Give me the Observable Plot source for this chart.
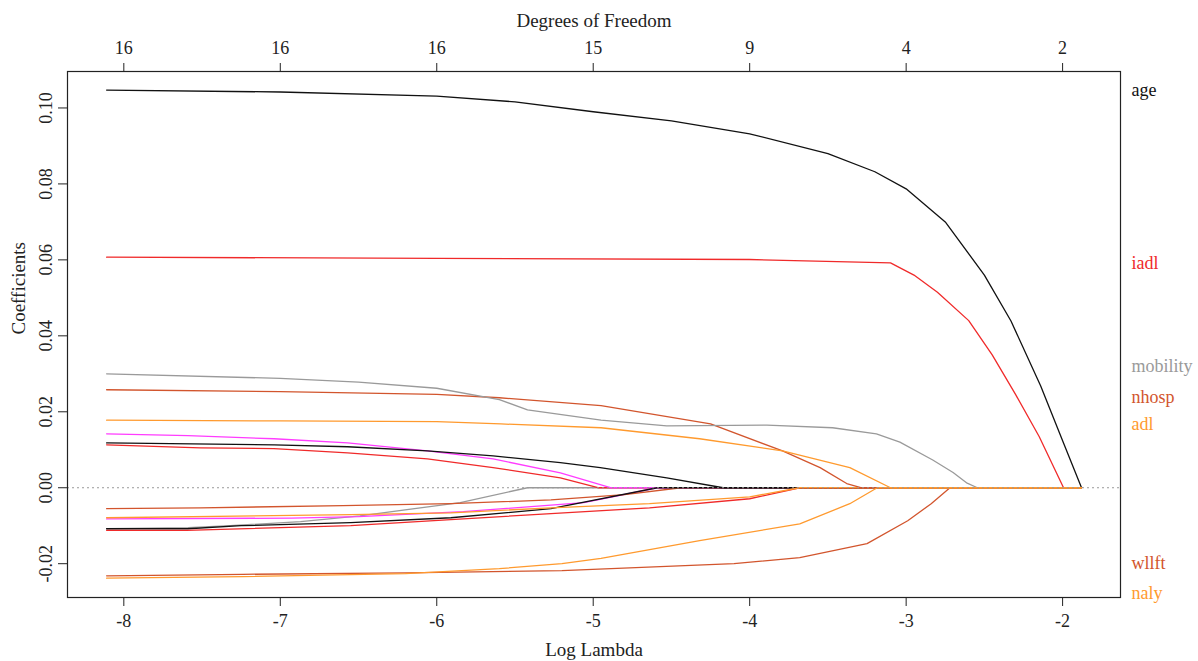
<!DOCTYPE html>
<html>
<head>
<meta charset="utf-8">
<script src="https://cdn.jsdelivr.net/npm/d3@7"></script>
<script src="https://cdn.jsdelivr.net/npm/@observablehq/plot@0.6"></script>
<style>
  html, body { margin: 0; padding: 0; background: #fff; }
  #chart svg { display: block; }
</style>
</head>
<body>
<div id="chart"></div>
<script>
// ---- Data (Log Lambda, coefficient) ----
const iadl = [[-8.11,0.0607],[-6,0.0604],[-4,0.0601],[-3.1,0.0592],[-2.95,0.0560],[-2.8,0.0515],[-2.6,0.0440],[-2.45,0.0350],[-2.3,0.0245],[-2.15,0.0135],[-1.994,0],[-1.879,0]];
const age = [[-8.11,0.1047],[-7,0.1042],[-6,0.1031],[-5.5,0.1016],[-5,0.0990],[-4.5,0.0966],[-4,0.0932],[-3.5,0.0880],[-3.2,0.0832],[-3,0.0787],[-2.75,0.0700],[-2.5,0.0560],[-2.33,0.0439],[-2.14,0.0268],[-2,0.0124],[-1.879,0]];
const grayNeg = [[-8.11,-0.0108],[-7.59,-0.0105],[-7.32,-0.0100],[-6.87,-0.0089],[-6.49,-0.0074],[-5.85,-0.0039],[-5.42,0],[-1.879,0]];
const redPos = [[-8.11,0.0113],[-7.51,0.0105],[-7.04,0.0103],[-6.57,0.0092],[-6.06,0.0076],[-5.64,0.0053],[-5.21,0.0026],[-4.97,0],[-1.879,0]];
const magentaPos = [[-8.11,0.0142],[-7.59,0.0137],[-7.04,0.0129],[-6.57,0.0118],[-6.06,0.0097],[-5.64,0.0076],[-5.21,0.0039],[-4.89,0],[-1.879,0]];
const magentaNeg = [[-8.11,-0.0082],[-6.93,-0.0080],[-6.5,-0.0076],[-5.83,-0.0063],[-5.06,-0.0039],[-4.59,0],[-1.879,0]];
const siennaNeg = [[-8.11,-0.0055],[-7.51,-0.0053],[-6.6,-0.0047],[-5.91,-0.0042],[-5.27,-0.0032],[-4.8,-0.0018],[-4.44,0],[-1.879,0]];
const blackPos = [[-8.11,0.0118],[-7.04,0.0113],[-6.57,0.0108],[-6.06,0.0097],[-5.64,0.0084],[-5.21,0.0066],[-4.955,0.0053],[-4.53,0.0026],[-4.17,0],[-1.879,0]];
const blackNeg = [[-8.11,-0.0108],[-7.59,-0.0108],[-7.25,-0.0100],[-6.55,-0.0092],[-5.91,-0.0079],[-5.27,-0.0055],[-4.59,0],[-1.879,0]];
const redNeg = [[-8.11,-0.0112],[-7.6,-0.0112],[-6.55,-0.0100],[-5.91,-0.0084],[-5.27,-0.0068],[-4.64,-0.0053],[-4.0,-0.0029],[-3.68,0],[-1.879,0]];
const orangeNeg = [[-8.11,-0.0079],[-6.55,-0.0071],[-5.91,-0.0066],[-5.27,-0.0053],[-4.64,-0.0042],[-4.0,-0.0024],[-3.68,0],[-1.879,0]];
const nhosp = [[-8.11,0.0258],[-7,0.0253],[-6,0.0246],[-5.6,0.0237],[-4.95,0.0216],[-4.25,0.0168],[-3.79,0.0097],[-3.55,0.0053],[-3.38,0.0011],[-3.29,0],[-1.879,0]];
const mobility = [[-8.11,0.0300],[-7,0.0288],[-6.5,0.0278],[-6,0.0262],[-5.6,0.0232],[-5.42,0.0205],[-4.95,0.0178],[-4.53,0.0163],[-3.89,0.0165],[-3.47,0.0158],[-3.19,0.0142],[-3.04,0.0120],[-2.83,0.0073],[-2.7,0.0040],[-2.61,0.0012],[-2.545,0],[-1.879,0]];
const wllft = [[-8.11,-0.0232],[-7.24,-0.0228],[-6.2,-0.0224],[-5.2,-0.0218],[-4.1,-0.0200],[-3.68,-0.0184],[-3.25,-0.0147],[-2.99,-0.0087],[-2.84,-0.0042],[-2.72,0],[-1.879,0]];
const adl = [[-8.11,0.0178],[-7,0.0176],[-6,0.0174],[-5.59,0.0168],[-4.95,0.0158],[-4.32,0.0129],[-3.79,0.0097],[-3.36,0.0053],[-3.1,0],[-1.879,0]];
const naly = [[-8.11,-0.0238],[-7.24,-0.0234],[-6.2,-0.0226],[-5.6,-0.0213],[-5.2,-0.0200],[-4.95,-0.0186],[-4.32,-0.0139],[-3.68,-0.0095],[-3.36,-0.0042],[-3.185,0],[-1.879,0]];

// drawing order (later series on top)
const seriesNames = ["iadl","age","v_grayNeg","v_redPos","v_magentaPos","v_magentaNeg","v_siennaNeg","v_blackPos","v_blackNeg","v_redNeg","v_orangeNeg","nhosp","mobility","wllft","adl","naly"];
const seriesData  = [iadl, age, grayNeg, redPos, magentaPos, magentaNeg, siennaNeg, blackPos, blackNeg, redNeg, orangeNeg, nhosp, mobility, wllft, adl, naly];
const seriesColors = ["#f02a2a","#111111","#9a9a9a","#f02a2a","#ff3cff","#ff3cff","#d2552d","#111111","#111111","#f02a2a","#ff9a2e","#d2552d","#9a9a9a","#d2552d","#ff9a2e","#ff9a2e"];

// axis ticks & labels
const xTicks = [-8, -7, -6, -5, -4, -3, -2];
const xTickLabels = ["-8", "-7", "-6", "-5", "-4", "-3", "-2"];
const dfLabels = ["16", "16", "16", "15", "9", "4", "2"];
const yTicks = [-0.02, 0, 0.02, 0.04, 0.06, 0.08, 0.10];
const yTickLabels = ["-0.02", "0.00", "0.02", "0.04", "0.06", "0.08", "0.10"];

// right-hand variable labels
const labelNames = ["age", "iadl", "mobility", "nhosp", "adl", "wllft", "naly"];
const labelY = [0.1047, 0.0592, 0.0321, 0.0239, 0.0166, -0.0200, -0.0279];

// ---- build table ----
const rows = [];
seriesData.forEach((s, i) => s.forEach(([L, c]) => rows.push({name: seriesNames[i], L, c})));
const yTickRows = yTicks.map((v, i) => ({v, t: yTickLabels[i]}));
const labelRows = labelNames.map((n, i) => ({n, y: labelY[i]}));

const chart = Plot.plot({
  width: 1198,
  height: 661,
  marginLeft: 67,
  marginRight: 78,
  marginTop: 71,
  marginBottom: 64,
  style: {fontFamily: "'Liberation Serif', 'Times New Roman', serif", fontSize: "18px", color: "#222", background: "#fff"},
  x: {domain: [-8.36, -1.63]},
  y: {domain: [-0.0289, 0.1096]},
  color: {domain: seriesNames, range: seriesColors},
  marks: [
    Plot.line(rows, {x: "L", y: "c", z: "name", stroke: "name", strokeWidth: 1.3}),
    Plot.ruleY([0], {stroke: "#999", strokeDasharray: "2,3", strokeWidth: 1}),
    Plot.frame({stroke: "#222", strokeWidth: 1.2}),
    Plot.axisX({ticks: xTicks, tickFormat: (d) => xTickLabels[xTicks.indexOf(d)], tickSize: 9, tickPadding: 8, label: null, fontSize: 18}),
    Plot.axisX({anchor: "top", ticks: xTicks, tickFormat: (d) => dfLabels[xTicks.indexOf(d)], tickSize: 9, tickPadding: 9, label: null, fontSize: 18}),
    Plot.axisY({ticks: yTicks, tickSize: 9, tickFormat: () => "", label: null}),
    Plot.text(yTickRows, {y: "v", text: "t", frameAnchor: "left", dx: -21, rotate: -90, textAnchor: "middle", fontSize: 18, fill: "#222"}),
    Plot.text(["Coefficients"], {frameAnchor: "left", dx: -49, rotate: -90, fontSize: 19, fill: "#222"}),
    Plot.text(["Log Lambda"], {frameAnchor: "bottom", dy: 58, fontSize: 19, fill: "#222"}),
    Plot.text(["Degrees of Freedom"], {frameAnchor: "top", dy: -58, fontSize: 19, fill: "#222"}),
    Plot.text(labelRows, {y: "y", text: "n", frameAnchor: "right", dx: 11, textAnchor: "start", fill: "n", fontSize: 18})
  ]
});
document.getElementById("chart").appendChild(chart);
</script>
</body>
</html>
